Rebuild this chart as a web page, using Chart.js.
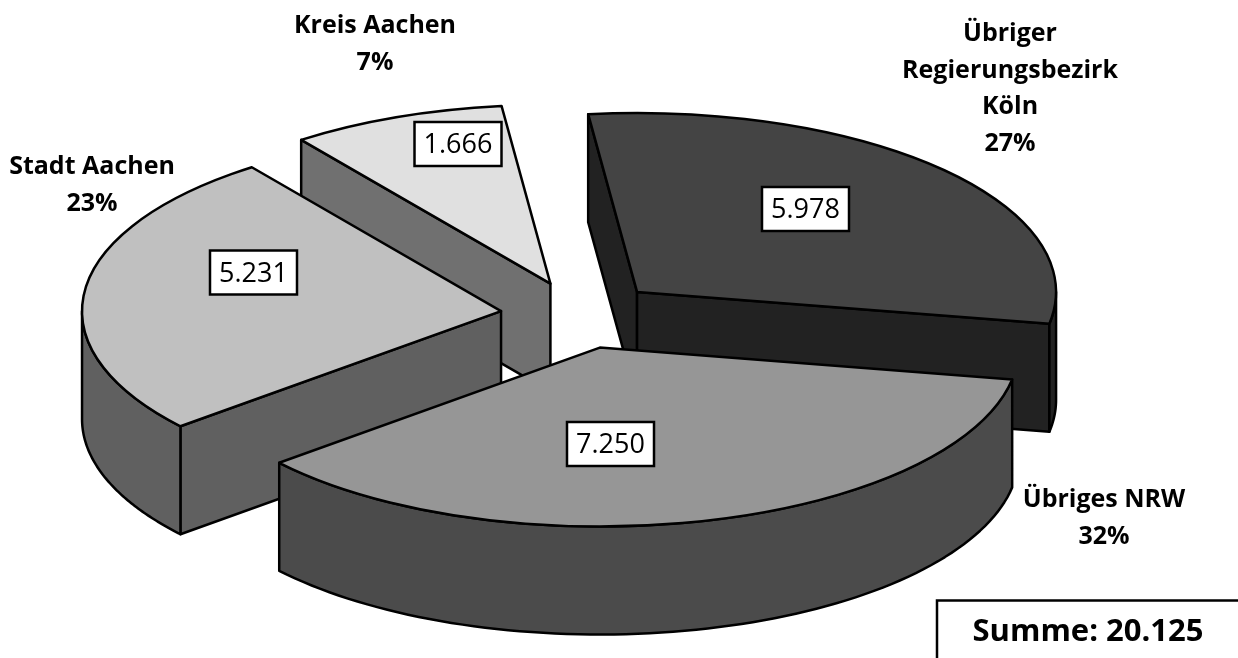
<!DOCTYPE html>
<html>
<head>
<meta charset="utf-8">
<style>
  html, body { margin: 0; padding: 0; background: #fff; }
  canvas { display: block; }
</style>
<script src="https://cdn.jsdelivr.net/npm/chart.js@4"></script>
</head>
<body>
<canvas id="pie" width="1238" height="658"></canvas>
<script>
var categories = [["Übriger", "Regierungsbezirk", "Köln"], ["Übriges NRW"], ["Stadt Aachen"], ["Kreis Aachen"]];
var values = [5978, 7250, 5231, 1666];
var percents = ["27%", "32%", "23%", "7%"];
var totalLabel = "Summe: ";

// look of the slices
var topColors = ["#444444", "#969696", "#c0c0c0", "#e0e0e0"];
var wallColors = ["#222222", "#4b4b4b", "#606060", "#707070"];
var paintOrder = [3, 2, 0, 1]; // back to front
var explode = 79;
var depth = 108;
var tilt = 0.427;

// where the texts sit: centre x and first baseline
var namePos = [[1010, 41], [1104, 507], [92, 174], [375, 33]];
var boxPos = [[805.5, 209], [610.5, 444], [253.5, 272.5], [458, 144]];

function fmt(n){
  return String(n).replace(/\B(?=(\d{3})+$)/g, ".");
}

function project(arc, angle, radius){
  var mid = (arc.startAngle + arc.endAngle) / 2;
  return {
    x: arc.x + Math.cos(mid) * explode + Math.cos(angle) * radius,
    y: arc.y + (Math.sin(mid) * explode + Math.sin(angle) * radius) * tilt
  };
}

function drawFace(ctx, pts, color){
  ctx.beginPath();
  pts.forEach(function(p, n){
    if(n == 0){
      ctx.moveTo(p.x, p.y);
    }else{
      ctx.lineTo(p.x, p.y);
    }
  });
  ctx.closePath();
  ctx.fillStyle = color;
  ctx.fill();
  ctx.stroke();
}

function cutFace(arc, angle){
  var a = project(arc, angle, 0);
  var b = project(arc, angle, arc.outerRadius);
  return [a, b, {x: b.x, y: b.y + depth}, {x: a.x, y: a.y + depth}];
}

function outerWall(arc){
  var from = arc.startAngle, to = arc.endAngle;
  // only the part of the rim that faces the viewer
  var ranges = [[0, Math.PI], [2 * Math.PI, 3 * Math.PI], [-2 * Math.PI, -Math.PI]];
  var pts = null;
  ranges.forEach(function(r){
    var lo = Math.max(from, r[0]), hi = Math.min(to, r[1]);
    if(hi > lo){
      var upper = [], lower = [];
      for(var s = 0; s <= 80; s++){
        var p = project(arc, lo + (hi - lo) * s / 80, arc.outerRadius);
        upper.push(p);
        lower.unshift({x: p.x, y: p.y + depth});
      }
      pts = upper.concat(lower);
    }
  });
  return pts;
}

var pie3d = {
  id: 'pie3d',
  beforeDatasetsDraw: function(chart){
    var ctx = chart.ctx;
    var arcs = chart.getDatasetMeta(0).data;
    ctx.save();
    ctx.strokeStyle = "#000";
    ctx.lineWidth = 2.5;
    ctx.lineJoin = "round";
    paintOrder.forEach(function(i){
      var arc = arcs[i];
      var wall = wallColors[i];
      if(Math.cos(arc.startAngle) < 0){
        drawFace(ctx, cutFace(arc, arc.startAngle), wall);
      }
      if(Math.cos(arc.endAngle) > 0){
        drawFace(ctx, cutFace(arc, arc.endAngle), wall);
      }
      var rim = outerWall(arc);
      if(rim){
        drawFace(ctx, rim, wall);
      }
      // the top is the library's own arc, squashed and moved out
      var o = project(arc, 0, 0);
      ctx.save();
      ctx.translate(o.x, o.y);
      ctx.scale(1, tilt);
      ctx.translate(-arc.x, -arc.y);
      arc.draw(ctx);
      ctx.beginPath();
      ctx.moveTo(arc.x, arc.y);
      ctx.arc(arc.x, arc.y, arc.outerRadius, arc.startAngle, arc.endAngle);
      ctx.closePath();
      ctx.restore();
      ctx.stroke();
    });
    ctx.restore();
    return false;
  },
  afterDraw: function(chart){
    var ctx = chart.ctx;
    ctx.save();
    ctx.textAlign = "center";
    ctx.textBaseline = "alphabetic";
    ctx.fillStyle = "#000";
    ctx.font = "bold 25px 'Open Sans'";
    categories.forEach(function(lines, i){
      var all = lines.concat([percents[i]]);
      all.forEach(function(t, n){
        ctx.fillText(t, namePos[i][0], namePos[i][1] + n * 36.7);
      });
    });
    ctx.font = "27px 'Open Sans'";
    ctx.lineWidth = 2.5;
    values.forEach(function(v, i){
      var x = boxPos[i][0], y = boxPos[i][1];
      ctx.fillStyle = "#fff";
      ctx.fillRect(x - 43.5, y - 22, 87, 44);
      ctx.strokeStyle = "#000";
      ctx.strokeRect(x - 43.5, y - 22, 87, 44);
      ctx.fillStyle = "#000";
      ctx.fillText(fmt(v), x, y + 9);
    });
    // sum box runs off the right and bottom edge
    ctx.beginPath();
    ctx.moveTo(937, 658);
    ctx.lineTo(937, 600.5);
    ctx.lineTo(1238, 600.5);
    ctx.stroke();
    var total = values.reduce(function(a, b){ return a + b; }, 0);
    ctx.font = "bold 31px 'Open Sans'";
    ctx.fillText(totalLabel + fmt(total), 1088, 641);
    ctx.restore();
  }
};

var pieChart = new Chart(document.getElementById('pie'), {
  type: 'pie',
  data: {
    labels: categories.map(function(c){ return c.join(" "); }),
    datasets: [{
      data: values,
      backgroundColor: topColors,
      borderWidth: 0
    }]
  },
  options: {
    responsive: false,
    animation: false,
    rotation: -6.7,
    radius: 419,
    layout: { padding: { right: 79, bottom: 28 } },
    plugins: {
      legend: { display: false },
      tooltip: { enabled: false }
    }
  },
  plugins: [pie3d]
});
</script>
</body>
</html>
